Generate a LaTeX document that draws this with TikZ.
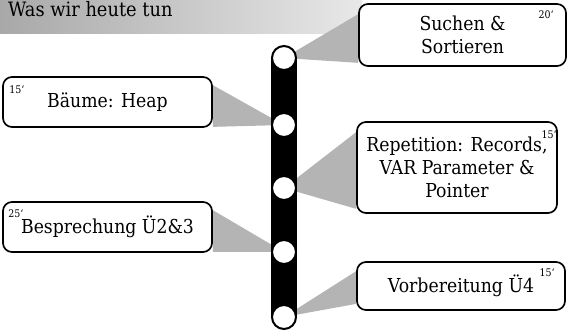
\documentclass[tikz,border=0pt]{standalone}
\usepackage{fontspec}
\setmainfont{DejaVu Serif}[FakeStretch=0.9]
\usetikzlibrary{calc,backgrounds}
\definecolor{wedgegray}{HTML}{B4B4B4}
\begin{document}
\begin{tikzpicture}[x=1pt,y=-1pt,
  topic/.style={draw=black,line width=1.7pt,rounded corners=9pt,fill=white,align=center,
    font=\fontsize{19.2}{23}\selectfont,inner sep=0pt},
  stopcircle/.style={circle,draw=black,fill=white,line width=2pt,minimum size=24pt,inner sep=0pt},
  wedge/.style={fill=wedgegray,draw=none},
  mins/.style={font=\fontsize{10.5}{11}\selectfont,inner sep=0pt}]
\useasboundingbox (0,0) rectangle (567,330);
% header
\node[anchor=base west,font=\fontsize{19.8}{22}\selectfont,inner sep=0pt] (title) at (8,16) {Was wir heute tun};
% stop positions
\coordinate (c1) at (284,58);
\coordinate (c2) at (284,125);
\coordinate (c3) at (284,188);
\coordinate (c4) at (284,252);
\coordinate (c5) at (284,317);
% boxes
\node[topic,minimum width=207pt,minimum height=62pt] (suchen) at (462.5,35) {Suchen \&\\Sortieren};
\node[topic,minimum width=209pt,minimum height=50pt] (baeume) at (107.5,102) {Bäume: Heap};
\node[topic,minimum width=200pt,minimum height=91pt] (repet) at (457,167.5) {Repetition: Records,\\VAR Parameter \&\\Pointer};
\node[topic,minimum width=209pt,minimum height=50pt] (bespr) at (107.5,227) {Besprechung Ü2\&3};
\node[topic,minimum width=208pt,minimum height=48pt] (vorb) at (461,286) {Vorbereitung Ü4};
% circles
\foreach \c in {c1,c2,c3,c4,c5} \node[stopcircle] (s\c) at (\c) {};
\begin{scope}[on background layer]
  \shade[left color=black!34, right color=black!9] (0,0) rectangle (362,33);
  \fill[wedge] (sc1.center) -- ($(suchen.north west)+(0,11)$) -- ($(suchen.south west)+(0,-4)$) -- cycle;
  \fill[wedge] (sc2.center) -- ($(baeume.north east)+(0,9)$) -- ($(baeume.south east)+(0,-1)$) -- cycle;
  \fill[wedge] (sc3.center) -- ($(repet.north west)+(0,11)$) -- ($(repet.south west)+(0,-5)$) -- cycle;
  \fill[wedge] (sc4.center) -- ($(bespr.north east)+(0,9)$) -- ($(bespr.south east)+(0,-1)$) -- cycle;
  \fill[wedge] (sc5.center) -- ($(vorb.north west)+(0,10)$) -- ($(vorb.south west)+(0,-7)$) -- cycle;
  \fill[black] ($(sc1.center)+(-13,0)$) rectangle ($(sc5.center)+(13,0)$);
\end{scope}
% minutes
\node[mins,anchor=north east] (m1) at ($(suchen.north east)+(-13,7)$) {20‘};
\node[mins,anchor=north west] (m2) at ($(baeume.north west)+(7,9)$) {15‘};
\node[mins,anchor=north east] (m3) at ($(repet.north east)+(-1,9)$) {15‘};
\node[mins,anchor=north west] (m4) at ($(bespr.north west)+(6,8)$) {25‘};
\node[mins,anchor=north east] (m5) at ($(vorb.north east)+(-11,7)$) {15‘};
\end{tikzpicture}
\end{document}
